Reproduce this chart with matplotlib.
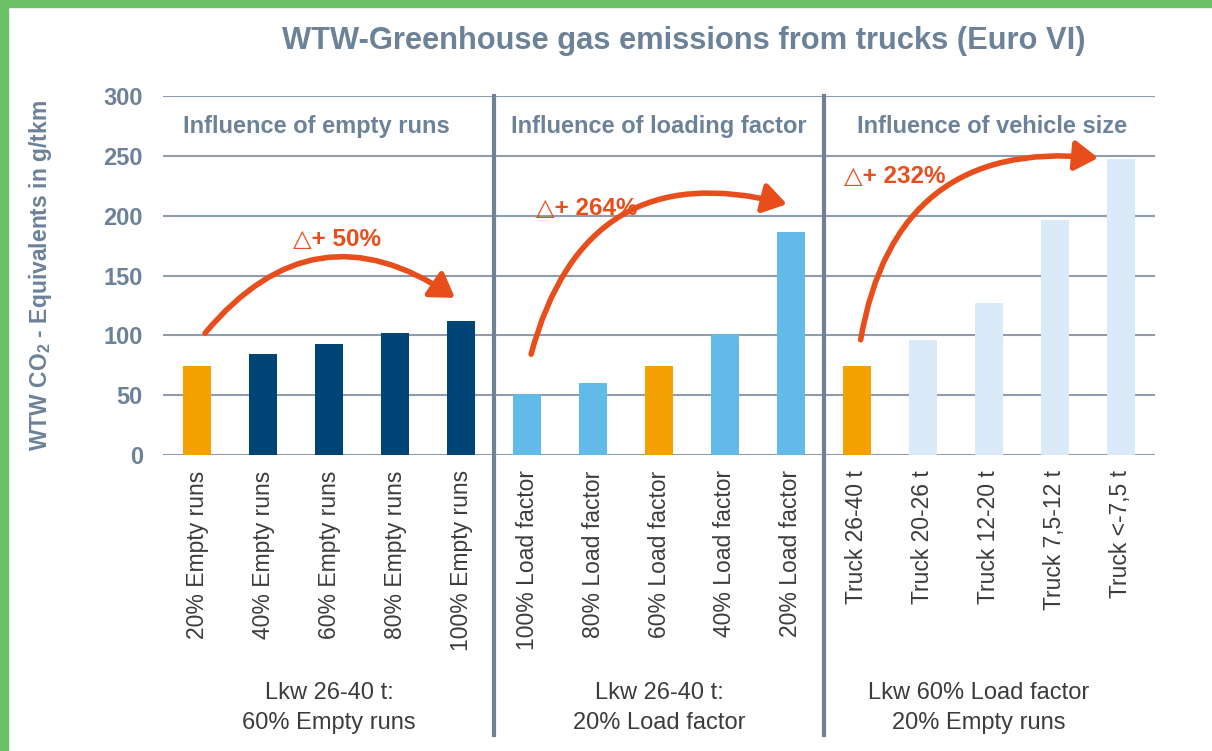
import numpy as np
import matplotlib
matplotlib.use('Agg')
import matplotlib.pyplot as plt
import matplotlib.transforms as mtransforms
from matplotlib.patches import FancyArrowPatch, Rectangle

# fonts
plt.rcParams['font.family'] = ['Liberation Sans', 'DejaVu Sans']
plt.rcParams['mathtext.fontset'] = 'custom'
plt.rcParams['mathtext.bf'] = 'Liberation Sans:bold'

# data
labels_empty = ['20% Empty runs', '40% Empty runs', '60% Empty runs', '80% Empty runs', '100% Empty runs']
labels_load = ['100% Load factor', '80% Load factor', '60% Load factor', '40% Load factor', '20% Load factor']
labels_size = ['Truck 26-40 t', 'Truck 20-26 t', 'Truck 12-20 t', 'Truck 7,5-12 t', 'Truck <-7,5 t']
values_empty = [74, 84, 93, 102, 112]
values_load = [51, 60, 74, 101, 186]
values_size = [74, 96, 127, 196, 247]

headers = ['Influence of empty runs', 'Influence of loading factor', 'Influence of vehicle size']
footers = ['Lkw 26-40 t:\n60% Empty runs', 'Lkw 26-40 t:\n20% Load factor',
           'Lkw 60% Load factor\n20% Empty runs']
deltas = ['\u25b3+ 50%', '\u25b3+ 264%', '\u25b3+ 232%']

# colors
c_orange = '#F4A100'
c_navy = '#004576'
c_blue = '#62BAE9'
c_pale = '#DBEAF9'
c_red = '#E84E1B'
c_slate = '#6C8299'
c_grid = '#8E9CAB'
c_sep = '#6F8195'
c_text = '#3C3C3C'

colors_empty = [c_orange] + [c_navy] * 4
colors_load = [c_blue, c_blue, c_orange, c_blue, c_blue]
colors_size = [c_orange] + [c_pale] * 4

labels = labels_empty + labels_load + labels_size
values = values_empty + values_load + values_size
colors = colors_empty + colors_load + colors_size
x = np.arange(len(values))

fig = plt.figure(figsize=(12.12, 7.51), dpi=100)
ax = fig.add_axes([0.1345, 0.3941, 0.8185, 0.4781])

# green frame
fig.patches.append(Rectangle((0, 0.9907), 1, 0.0093, transform=fig.transFigure, color='#6CC167', zorder=10))
fig.patches.append(Rectangle((0, 0), 0.0066, 1, transform=fig.transFigure, color='#6CC167', zorder=10))

ax.bar(x, values, width=0.42, color=colors, zorder=3)

ax.set_xlim(-0.52, 14.52)
ax.set_ylim(0, 300)
ax.set_yticks(np.arange(0, 301, 50))
ax.yaxis.grid(True, color=c_grid, linewidth=1.5, zorder=0)
ax.set_axisbelow(True)
for s in ax.spines.values():
    s.set_visible(False)
ax.tick_params(axis='y', length=0, pad=14.5, labelsize=17, labelcolor=c_slate)
for t in ax.get_yticklabels():
    t.set_fontweight('bold')
ax.set_xticks(x)
ax.set_xticklabels(labels, rotation=90, fontsize=16.5, color=c_text, va='top')
ax.tick_params(axis='x', length=0, pad=11)

ax.set_ylabel(r'WTW CO$_\mathbf{2}$ - Equivalents in g/tkm', fontsize=16.5,
              fontweight='bold', color=c_slate)
ax.yaxis.set_label_coords(-0.11, 0.5)

# title
fig.text(0.564, 0.945, 'WTW-Greenhouse gas emissions from trucks (Euro VI)', ha='center', va='center',
         fontsize=22.2, fontweight='bold', color=c_slate)

# separators
trans = mtransforms.blended_transform_factory(ax.transData, ax.transAxes)
for xs in [4.5, 9.5]:
    ax.plot([xs, xs], [-0.78, 1.0], transform=trans, color=c_sep, linewidth=3, clip_on=False, zorder=4)

# headers and footers
for hx, h in zip([1.8, 7.0, 12.05], headers):
    ax.text(hx, 0.916, h, transform=trans, ha='center', va='center', fontsize=17,
            fontweight='bold', color=c_slate)
for fx, f in zip([2.0, 7.0, 11.85], footers):
    ax.text(fx, -0.705, f, transform=trans, ha='center', va='center', fontsize=17,
            color=c_text, linespacing=1.5)

# arrows
arrows = [((0.09, 100), (3.94, 130), -0.46),
          ((5.05, 82), (8.98, 209), -0.5),
          ((10.05, 94), (13.7, 248), -0.47)]
for (p0, p1, rad) in arrows:
    ax.add_patch(FancyArrowPatch(p0, p1, connectionstyle='arc3,rad=%s' % rad,
                                 arrowstyle='-|>,head_length=0.7,head_width=0.45',
                                 mutation_scale=20, color=c_red, linewidth=4,
                                 zorder=5, clip_on=False))

for (dx, dy), d in zip([(2.12, 180), (5.9, 206), (10.58, 233)], deltas):
    ax.text(dx, dy, d, ha='center', va='center', fontsize=17.5, fontweight='bold', color=c_red)

plt.savefig('out.png', dpi=100)
